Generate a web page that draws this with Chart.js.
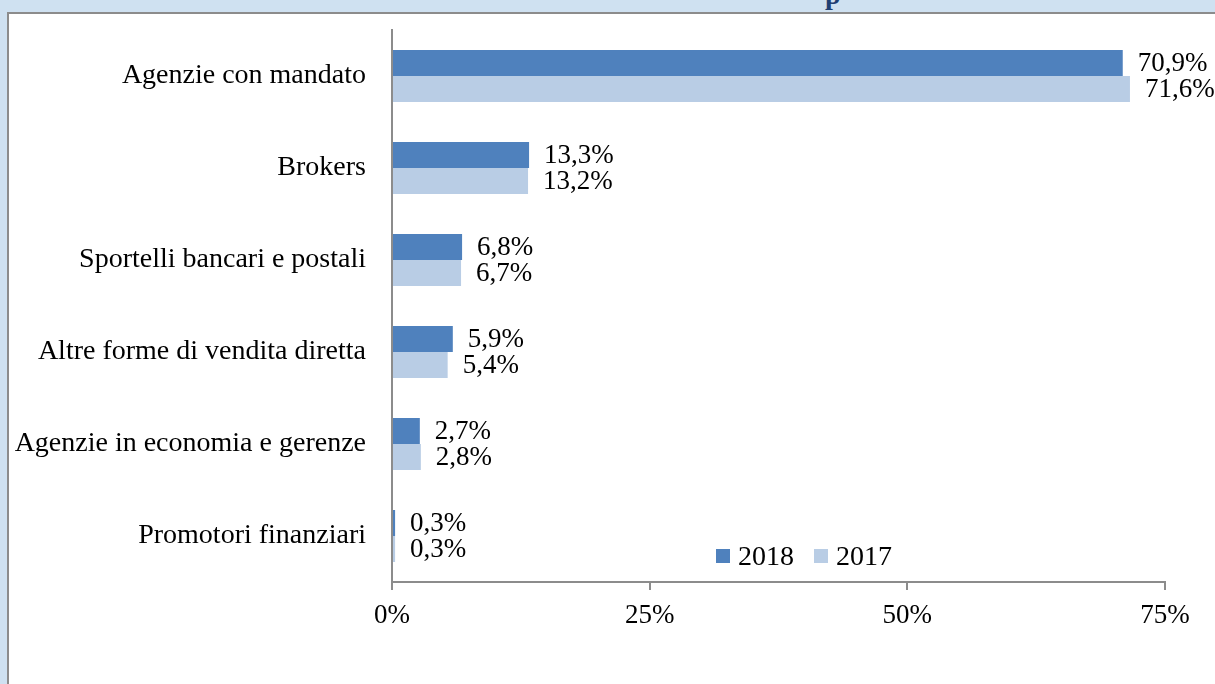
<!DOCTYPE html>
<html>
<head>
<meta charset="utf-8">
<script src="https://cdn.jsdelivr.net/npm/chart.js@4.4.1/dist/chart.umd.min.js"></script>
<style>
    html, body { margin: 0; padding: 0; }
    body { width: 1215px; height: 684px; background: #cfe1f1; position: relative; overflow: hidden; font-family: "Liberation Serif", serif; }
    .frame { position: absolute; left: 7px; top: 12px; width: 1230px; height: 700px; background: #fff; border-left: 2px solid #8c8c8c; border-top: 2px solid #8c8c8c; }
    .title { position: absolute; left: 825px; top: -21px; font: bold 28px "Liberation Serif", serif; color: #1f3f73; }
    .wrap { position: absolute; left: 0; top: 0; width: 1215px; height: 684px; }
    .legend { position: absolute; left: 716px; top: 540px; font-size: 28px; color: #000; display: flex; align-items: center; }
    .legend span.box { display: inline-block; width: 14px; height: 14px; margin-right: 8px; }
    .legend span.lbl { margin-right: 20px; }
</style>
</head>
<body>
<div class="title">p</div>
<div class="frame"></div>
<div class="wrap"><canvas id="barChart"></canvas></div>
<div class="legend" id="legend"></div>

<script>
// Data
const categories = [
    "Agenzie con mandato",
    "Brokers",
    "Sportelli bancari e postali",
    "Altre forme di vendita diretta",
    "Agenzie in economia e gerenze",
    "Promotori finanziari"
];
const values2018 = [70.9, 13.3, 6.8, 5.9, 2.7, 0.3];
const values2017 = [71.6, 13.2, 6.7, 5.4, 2.8, 0.3];
const seriesNames = ["2018", "2017"];
const seriesColors = ["#4f81bd", "#b9cde5"];
const xTicks = [0, 25, 50, 75];

const fmt = v => v.toFixed(1).replace('.', ',') + '%';

// value labels at the end of every bar
const barLabels = {
    id: 'barLabels',
    afterDatasetsDraw(chart) {
        const ctx = chart.ctx;
        ctx.save();
        ctx.font = '27px "Liberation Serif", serif';
        ctx.fillStyle = '#000';
        ctx.textAlign = 'left';
        ctx.textBaseline = 'middle';
        chart.data.datasets.forEach((ds, i) => {
            chart.getDatasetMeta(i).data.forEach((bar, j) => {
                ctx.fillText(fmt(ds.data[j]), bar.x + 15, bar.y + 1);
            });
        });
        ctx.restore();
    }
};

function init() {
    const legend = document.getElementById('legend');
    legend.innerHTML = seriesNames.map((n, i) =>
        `<span class="box" style="background:${seriesColors[i]}"></span><span class="lbl">${n}</span>`
    ).join('');

    const ctx = document.getElementById('barChart').getContext('2d');
    new Chart(ctx, {
        type: 'bar',
        data: {
            labels: categories,
            datasets: [
                { label: seriesNames[0], data: values2018, backgroundColor: seriesColors[0] },
                { label: seriesNames[1], data: values2017, backgroundColor: seriesColors[1] }
            ]
        },
        options: {
            indexAxis: 'y',
            responsive: true,
            maintainAspectRatio: false,
            animation: false,
            devicePixelRatio: 1,
            categoryPercentage: 0.565,
            barPercentage: 1,
            layout: { padding: { top: 30, right: 50, left: 0, bottom: 0 } },
            plugins: { legend: { display: false }, tooltip: { enabled: false } },
            scales: {
                x: {
                    min: 0, max: 75,
                    afterBuildTicks: s => { s.ticks = xTicks.map(v => ({ value: v })); },
                    afterFit: s => { s.height = 102; s.paddingLeft = 0; s.paddingRight = 0; },
                    grid: { drawOnChartArea: false, drawTicks: true, tickLength: 8, color: '#8c8c8c', lineWidth: 2 },
                    border: { display: true, color: '#8c8c8c', width: 2 },
                    ticks: { padding: 10, color: '#000', font: { family: 'Liberation Serif', size: 27 }, callback: v => v + '%' }
                },
                y: {
                    afterFit: s => { s.width = 392; s.paddingTop = 0; s.paddingBottom = 0; },
                    grid: { display: false, drawTicks: false },
                    border: { display: true, color: '#8c8c8c', width: 2 },
                    ticks: { padding: 26, color: '#000', font: { family: 'Liberation Serif', size: 28 } }
                }
            }
        },
        plugins: [barLabels]
    });
}

document.addEventListener('DOMContentLoaded', init);
</script>
</body>
</html>
